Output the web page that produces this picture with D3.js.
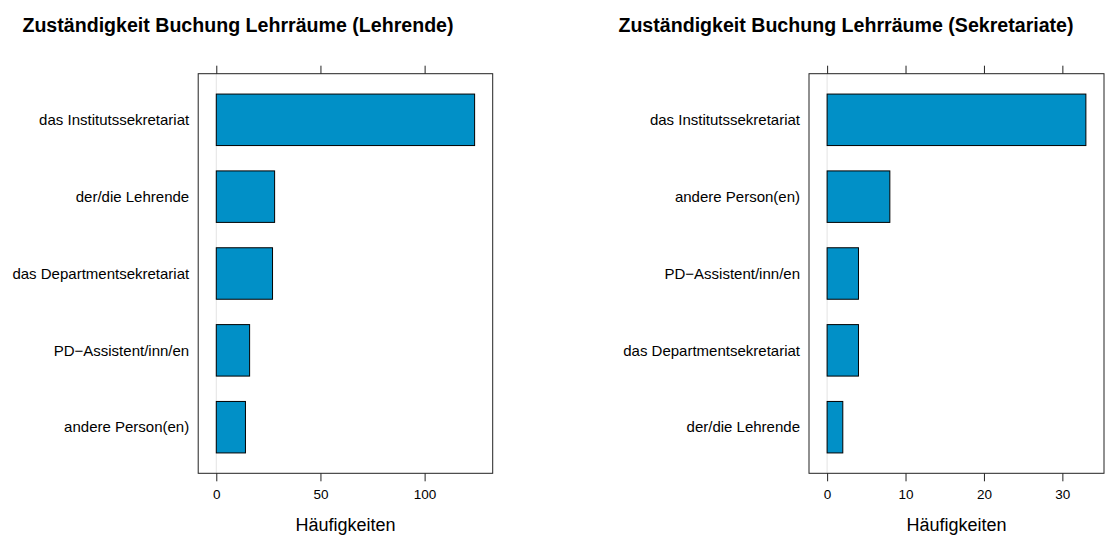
<!DOCTYPE html>
<html>
<head>
<meta charset="utf-8">
<script src="https://cdn.jsdelivr.net/npm/d3@7.9.0/dist/d3.min.js"></script>
<style>
  body { margin: 0; background: #fff; }
  svg { display: block; font-family: "Liberation Sans", Arial, sans-serif; }
</style>
</head>
<body>
<svg id="chart" width="1115" height="536"></svg>
<script>
// data
const lehrendeTitle = "Zuständigkeit Buchung Lehrräume (Lehrende)";
const lehrendeCats = ["das Institutssekretariat", "der/die Lehrende", "das Departmentsekretariat", "PD\u2212Assistent/inn/en", "andere Person(en)"];
const lehrendeValues = [124, 28, 27, 16, 14];
const lehrendeTicks = [0, 50, 100];

const sekTitle = "Zuständigkeit Buchung Lehrräume (Sekretariate)";
const sekCats = ["das Institutssekretariat", "andere Person(en)", "PD\u2212Assistent/inn/en", "das Departmentsekretariat", "der/die Lehrende"];
const sekValues = [33, 8, 4, 4, 2];
const sekTicks = [0, 10, 20, 30];

const xLabel = "Häufigkeiten";

const svg = d3.select("#chart");

function drawPanel(opts) {
    const { left, right, top, bottom, cats, values, ticks, title, titleX } = opts;
    const maxV = d3.max(values);
    // lattice style padding: 7% on each side
    const x = d3.scaleLinear().domain([-0.07 * maxV, 1.07 * maxV]).range([left, right]);
    const y = d3.scaleLinear().domain([0.4, cats.length + 0.6]).range([top, bottom]);
    const g = svg.append("g");

    // title
    g.append("text")
        .attr("x", titleX).attr("y", 32)
        .attr("text-anchor", "middle")
        .style("font-weight", "bold").style("font-size", "19.6px")
        .text(title);

    // reference line at zero
    g.append("line")
        .attr("x1", x(0)).attr("x2", x(0))
        .attr("y1", top).attr("y2", bottom)
        .attr("stroke", "#e3e3e3").attr("stroke-width", 1);

    // bars
    const bh = 0.67;
    g.selectAll("rect.bar").data(values).enter().append("rect")
        .attr("class", "bar")
        .attr("x", x(0))
        .attr("y", (d, i) => y(i + 1 - bh / 2))
        .attr("width", d => x(d) - x(0))
        .attr("height", y(1 + bh / 2) - y(1 - bh / 2))
        .attr("fill", "#0190c7")
        .attr("stroke", "#000").attr("stroke-width", 1);

    // category labels
    g.selectAll("text.cat").data(cats).enter().append("text")
        .attr("class", "cat")
        .attr("x", left - 9)
        .attr("y", (d, i) => y(i + 1))
        .attr("dy", "0.35em")
        .attr("text-anchor", "end")
        .style("font-size", "15px")
        .text(d => d);

    // panel box
    g.append("rect")
        .attr("x", left).attr("y", top)
        .attr("width", right - left).attr("height", bottom - top)
        .attr("fill", "none").attr("stroke", "#222").attr("stroke-width", 1);

    // bottom axis with labels, top axis ticks only
    const bottomAxis = d3.axisBottom(x).tickValues(ticks).tickSize(8).tickPadding(8).tickSizeOuter(0);
    const ba = g.append("g").attr("transform", `translate(0,${bottom})`).call(bottomAxis);
    ba.select(".domain").remove();
    ba.selectAll("line").attr("stroke", "#222");
    ba.selectAll("text").style("font-size", "13.5px").attr("font-family", null).attr("fill", "#000");

    const topAxis = d3.axisTop(x).tickValues(ticks).tickSize(8).tickFormat("").tickSizeOuter(0);
    const ta = g.append("g").attr("transform", `translate(0,${top})`).call(topAxis);
    ta.select(".domain").remove();
    ta.selectAll("line").attr("stroke", "#222");

    // x axis title
    g.append("text")
        .attr("x", (left + right) / 2).attr("y", 531)
        .attr("text-anchor", "middle")
        .style("font-size", "18px")
        .text(xLabel);
}

drawPanel({
    left: 198.2, right: 492.7, top: 73.7, bottom: 473.3,
    cats: lehrendeCats, values: lehrendeValues, ticks: lehrendeTicks,
    title: lehrendeTitle, titleX: 238
});

drawPanel({
    left: 809, right: 1104, top: 73.7, bottom: 473.3,
    cats: sekCats, values: sekValues, ticks: sekTicks,
    title: sekTitle, titleX: 846
});
</script>
</body>
</html>
